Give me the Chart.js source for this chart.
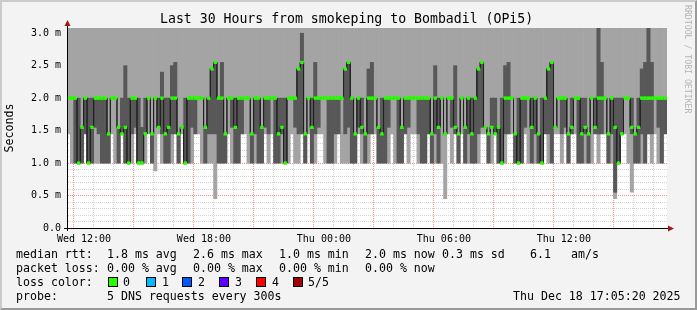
<!DOCTYPE html>
<html>
<head>
<meta charset="utf-8">
<script src="https://cdn.jsdelivr.net/npm/chart.js@4/dist/chart.umd.min.js"></script>
<style>
html,body{margin:0;padding:0;}
body{width:697px;height:310px;background:#f3f3f3;position:relative;overflow:hidden;font-family:'DejaVu Sans Mono',monospace;color:#000;}
#frame{position:absolute;left:0;top:0;width:697px;height:310px;box-sizing:border-box;border-style:solid;border-width:2px;border-color:#cbcbcb #999 #999 #cbcbcb;pointer-events:none;}
canvas{position:absolute;left:0;top:0;}
.t{position:absolute;white-space:pre;font-size:11.6px;line-height:14px;}
#title{position:absolute;left:160px;top:11px;font-size:13.2px;line-height:16px;white-space:pre;}
#wm{position:absolute;left:683px;top:5px;font-size:8.2px;line-height:10px;color:#b4b4b4;writing-mode:vertical-rl;white-space:pre;}
.box{position:absolute;width:10px;height:10px;box-sizing:border-box;border:1px solid #000;top:277px;}
</style>
</head>
<body>
<canvas id="c" width="697" height="310"></canvas>
<div id="title">Last 30 Hours from smokeping to Bombadil (OPi5)</div>
<div id="wm">RRDTOOL / TOBI OETIKER</div>

<div class="t" style="left:16px;top:247px">median rtt:</div>
<div class="t" style="left:107px;top:247px">1.8 ms avg</div>
<div class="t" style="left:193px;top:247px">2.6 ms max</div>
<div class="t" style="left:279px;top:247px">1.0 ms min</div>
<div class="t" style="left:365px;top:247px">2.0 ms now</div>
<div class="t" style="left:442px;top:247px">0.3 ms sd</div>
<div class="t" style="left:530px;top:247px">6.1</div>
<div class="t" style="left:571px;top:247px">am/s</div>

<div class="t" style="left:16px;top:261px">packet loss:</div>
<div class="t" style="left:107px;top:261px">0.00 % avg</div>
<div class="t" style="left:193px;top:261px">0.00 % max</div>
<div class="t" style="left:279px;top:261px">0.00 % min</div>
<div class="t" style="left:365px;top:261px">0.00 % now</div>

<div class="t" style="left:16px;top:275px">loss color:</div>
<div class="box" style="left:108px;background:#26ff00"></div><div class="t" style="left:123px;top:275px">0</div>
<div class="box" style="left:146px;background:#00b8ff"></div><div class="t" style="left:162px;top:275px">1</div>
<div class="box" style="left:182px;background:#0059ff"></div><div class="t" style="left:198px;top:275px">2</div>
<div class="box" style="left:219px;background:#5e00ff"></div><div class="t" style="left:235px;top:275px">3</div>
<div class="box" style="left:256px;background:#ff0000"></div><div class="t" style="left:272px;top:275px">4</div>
<div class="box" style="left:293px;background:#a10000"></div><div class="t" style="left:308px;top:275px">5/5</div>

<div class="t" style="left:16px;top:289px">probe:</div>
<div class="t" style="left:107px;top:289px">5 DNS requests every 300s</div>
<div class="t" style="left:513px;top:289px">Thu Dec 18 17:05:20 2025</div>

<div id="frame"></div>

<script>
// ---- data (ms), one column per 10 minutes, starting Wed 11:09 ----
const START_HOUR = 11.15;      // hours since Wed 00:00
const STEP_HOURS = 1 / 6;      // 10 minutes
const SPAN_HOURS = 30;

// smallest of the 5 pings
const minRtt = [
1.45,1.0,1.0,1.0,1.0,1.45,1.0,1.0,1.0,1.0,
1.0,1.0,1.0,1.45,1.0,1.0,1.45,1.0,1.0,1.0,
1.45,1.0,1.0,1.0,1.45,1.0,0.88,1.45,1.0,1.0,
1.0,1.0,1.45,1.0,1.45,1.0,1.0,1.0,1.45,1.45,
1.0,1.0,1.0,1.0,0.45,1.0,1.0,1.0,1.45,1.0,
1.0,1.0,1.45,1.45,1.0,1.0,1.0,1.0,1.0,1.45,
1.0,1.45,1.0,1.0,1.0,1.0,1.0,1.45,1.0,1.0,
1.45,1.0,1.45,1.0,1.0,1.45,1.45,1.0,1.0,1.0,
1.0,1.45,1.0,1.0,1.0,1.0,1.0,1.45,1.0,1.0,
1.0,1.45,1.45,1.0,1.0,1.0,1.0,1.45,1.0,1.0,
1.0,1.45,1.0,1.45,1.45,1.0,1.0,1.0,1.45,1.0,
1.0,1.0,1.0,0.45,1.45,1.0,1.45,1.0,1.45,1.0,
1.0,1.0,1.0,1.0,1.45,1.45,1.0,1.0,1.45,1.0,
1.0,1.0,1.45,1.45,1.0,1.0,1.0,1.45,1.0,1.0,
1.0,1.0,1.0,1.45,1.0,1.0,1.45,1.45,1.0,1.45,
1.0,1.45,1.45,1.0,1.0,1.0,1.0,1.0,1.45,1.0,
1.45,1.45,1.0,1.0,0.45,1.0,1.45,1.45,1.0,0.55,
1.0,1.0,1.0,1.0,1.45,1.0,1.45,1.0,1.0,1.45];

// 2nd ping (bottom of the dark smoke)
const lowRtt = [
2.0,2.0,1.0,1.0,1.0,1.45,1.0,1.0,1.55,1.45,
1.0,1.0,1.0,2.0,2.0,1.0,1.45,1.0,1.0,1.45,
1.55,1.0,1.0,1.45,2.0,1.0,2.0,1.55,1.45,1.0,
1.0,1.45,1.45,1.0,1.55,1.0,1.0,1.55,1.45,2.0,
2.0,1.0,1.45,1.45,1.45,1.0,1.0,1.0,2.0,1.55,
1.0,1.0,1.45,2.0,2.0,1.0,1.45,1.0,1.0,1.55,
1.45,2.0,1.0,1.0,1.45,1.0,2.0,2.0,1.55,1.45,
1.45,1.0,2.0,1.0,1.45,1.55,2.0,2.0,1.0,1.0,
1.45,1.45,2.0,1.45,1.55,1.0,1.0,1.55,1.45,1.0,
1.45,1.45,2.0,1.0,1.0,1.0,1.55,2.0,2.0,1.0,
1.0,1.45,1.55,2.0,2.0,1.45,1.0,1.0,1.45,1.0,
1.45,1.0,2.0,1.45,2.0,1.55,1.45,1.0,2.0,1.0,
1.45,1.0,1.0,1.45,1.55,1.55,1.0,1.55,1.45,1.0,
1.0,1.45,1.45,2.0,1.0,1.0,1.0,1.55,2.0,1.0,
1.45,1.0,1.0,1.45,1.45,1.0,1.55,2.0,1.45,1.55,
1.0,1.45,2.0,1.0,1.0,1.45,1.0,2.0,1.45,1.45,
1.45,2.0,1.0,1.45,0.55,1.0,1.45,2.0,2.0,1.45,
1.0,1.0,1.45,1.0,1.45,1.45,2.0,1.55,1.0,1.45];

// median of the 5 pings
const medianRtt = [
2.0,2.0,2.0,1.0,1.55,2.0,1.0,1.55,2.0,2.0,
2.0,2.0,1.45,2.0,2.0,1.55,1.45,1.55,1.0,2.0,
2.0,1.0,1.0,1.45,2.0,1.45,2.0,1.55,2.0,1.45,
1.55,2.0,2.0,1.45,1.55,1.0,2.0,2.0,2.0,2.0,
2.0,1.55,2.0,2.45,2.55,2.0,2.0,1.45,2.0,2.0,
1.55,2.0,2.0,2.0,2.0,1.45,2.0,2.0,1.55,2.0,
2.0,2.0,2.0,1.45,1.55,1.0,2.0,2.0,2.0,2.45,
2.55,1.45,2.0,1.55,2.0,2.0,2.0,2.0,2.0,2.0,
2.0,2.0,2.0,2.45,2.55,2.0,1.45,2.0,1.55,1.45,
2.0,2.0,2.0,1.55,1.45,2.0,2.0,2.0,2.0,2.0,
1.55,2.0,2.0,2.0,2.0,2.0,2.0,2.0,2.0,1.45,
2.0,1.55,2.0,1.45,2.0,2.0,1.55,1.45,2.0,1.55,
2.0,1.45,2.0,2.45,2.55,1.55,1.45,1.55,1.45,1.55,
1.0,2.0,2.0,2.0,1.45,1.0,2.0,2.0,2.0,1.55,
2.0,1.45,1.0,2.0,2.45,2.55,1.55,2.0,2.0,2.0,
1.45,1.55,2.0,2.0,1.45,1.55,1.45,2.0,1.55,2.0,
2.0,2.0,1.45,2.0,1.55,1.0,1.45,2.0,2.0,1.55,
1.45,1.55,2.0,2.0,2.0,2.0,2.0,2.0,2.0,2.0];

// 4th ping (top of the dark smoke)
const highRtt = [
2.0,2.0,2.0,2.0,1.55,2.0,2.0,2.0,2.0,2.0,
2.0,2.0,1.45,2.0,2.0,1.55,2.0,2.5,2.0,2.0,
2.0,2.0,1.55,2.0,2.0,1.45,2.0,2.0,2.4,2.0,
2.0,2.5,2.55,1.45,1.55,2.0,2.0,2.0,2.0,2.0,
2.0,1.55,2.0,2.45,2.55,2.0,2.55,1.45,2.0,2.0,
2.0,2.0,2.0,2.0,2.0,1.45,2.0,2.0,1.55,2.0,
2.0,2.0,2.0,2.0,2.0,2.0,2.0,2.0,2.0,2.45,
3.0,1.45,2.0,2.0,2.55,2.0,2.0,2.0,2.0,2.0,
2.0,2.0,2.0,2.45,2.55,2.0,1.45,2.0,2.0,1.45,
2.45,2.55,2.0,1.55,2.0,2.0,2.0,2.0,2.0,2.0,
1.55,2.0,2.0,2.0,2.0,2.0,2.0,2.0,2.0,1.45,
2.5,2.0,2.0,1.45,2.0,2.0,2.5,1.45,2.0,1.55,
2.0,2.0,2.0,2.45,2.55,1.55,1.45,2.0,2.0,1.55,
2.0,2.5,2.55,2.0,1.45,2.0,2.0,2.0,2.0,2.0,
2.0,1.45,2.0,2.0,2.45,2.55,1.55,2.0,2.0,2.0,
1.45,2.0,2.0,2.0,2.0,2.0,1.45,2.0,2.0,3.5,
2.55,2.0,1.45,2.0,2.0,2.0,2.0,2.0,2.0,2.0,
1.45,2.0,2.45,2.55,3.5,2.55,2.0,2.0,2.0,2.0];

// largest of the 5 pings: above the top of the chart in every column
const maxRtt = [
3.5,3.5,3.5,3.5,3.5,3.5,3.5,3.5,3.5,3.5,
3.5,3.5,3.5,3.5,3.5,3.5,3.5,3.5,3.5,3.5,
3.5,3.5,3.5,3.5,3.5,3.5,3.5,3.5,3.5,3.5,
3.5,3.5,3.5,3.5,3.5,3.5,3.5,3.5,3.5,3.5,
3.5,3.5,3.5,3.5,3.5,3.5,3.5,3.5,3.5,3.5,
3.5,3.5,3.5,3.5,3.5,3.5,3.5,3.5,3.5,3.5,
3.5,3.5,3.5,3.5,3.5,3.5,3.5,3.5,3.5,3.5,
3.5,3.5,3.5,3.5,3.5,3.5,3.5,3.5,3.5,3.5,
3.5,3.5,3.5,3.5,3.5,3.5,3.5,3.5,3.5,3.5,
3.5,3.5,3.5,3.5,3.5,3.5,3.5,3.5,3.5,3.5,
3.5,3.5,3.5,3.5,3.5,3.5,3.5,3.5,3.5,3.5,
3.5,3.5,3.5,3.5,3.5,3.5,3.5,3.5,3.5,3.5,
3.5,3.5,3.5,3.5,3.5,3.5,3.5,3.5,3.5,3.5,
3.5,3.5,3.5,3.5,3.5,3.5,3.5,3.5,3.5,3.5,
3.5,3.5,3.5,3.5,3.5,3.5,3.5,3.5,3.5,3.5,
3.5,3.5,3.5,3.5,3.5,3.5,3.5,3.5,3.5,3.5,
3.5,3.5,3.5,3.5,3.5,3.5,3.5,3.5,3.5,3.5,
3.5,3.5,3.5,3.5,3.5,3.5,3.5,3.5,3.5,3.5];

const xTickHours  = [12, 18, 24, 30, 36];
const xTickLabels = ['Wed 12:00', 'Wed 18:00', 'Thu 00:00', 'Thu 06:00', 'Thu 12:00'];
const yMaxMs = 3.08;

// ---- build ----
const times = medianRtt.map((_, i) => START_HOUR + (i + 0.5) * STEP_HOURS);
const medianPts = times.map((t, i) => ({x: t, y: medianRtt[i]}));
const FONT = "'DejaVu Sans Mono', monospace";
const MAJOR = 'rgba(255,100,100,0.75)';
const MINOR = 'rgba(205,205,205,0.9)';

const framePlugin = {
  id: 'frame',
  beforeDraw(chart) {
    const {ctx, chartArea: a} = chart;
    ctx.save();
    ctx.fillStyle = '#ffffff';
    ctx.fillRect(a.left, a.top, a.right - a.left, a.bottom - a.top);
    ctx.restore();
  },
  afterDraw(chart) {
    const {ctx, chartArea: a} = chart;
    // median line and loss-colour marks above the grid
    ctx.save();
    ctx.beginPath();
    ctx.rect(a.left, a.top - 2, a.right - a.left, a.bottom - a.top + 2);
    ctx.clip();
    chart.getDatasetMeta(1).controller.draw();
    chart.getDatasetMeta(0).controller.draw();
    ctx.restore();
    // axis extensions and arrows
    ctx.save();
    ctx.strokeStyle = '#000';
    ctx.lineWidth = 1;
    ctx.beginPath();
    ctx.moveTo(a.left + 0.5, a.bottom + 3);
    ctx.lineTo(a.left + 0.5, a.top - 5);
    ctx.moveTo(a.left - 3, a.bottom + 0.5);
    ctx.lineTo(a.right + 2, a.bottom + 0.5);
    ctx.stroke();
    ctx.fillStyle = '#a01818';
    ctx.beginPath();
    ctx.moveTo(a.left + 0.5, a.top - 8);
    ctx.lineTo(a.left - 2.5, a.top - 2);
    ctx.lineTo(a.left + 3.5, a.top - 2);
    ctx.closePath();
    ctx.fill();
    ctx.beginPath();
    ctx.moveTo(a.right + 7, a.bottom + 0.5);
    ctx.lineTo(a.right + 1, a.bottom - 2.5);
    ctx.lineTo(a.right + 1, a.bottom + 3.5);
    ctx.closePath();
    ctx.fill();
    ctx.restore();
  }
};

new Chart(document.getElementById('c'), {
  type: 'bar',
  data: {
    datasets: [
      {
        type: 'line', label: 'loss 0', data: medianPts, showLine: false,
        pointStyle: 'line', pointRadius: 1.7, pointHoverRadius: 1.7,
        pointBorderWidth: 3, pointBorderColor: '#26ff00', pointBackgroundColor: '#26ff00',
        order: 0
      },
      {
        type: 'line', label: 'median', data: medianPts, stepped: 'middle',
        borderColor: '#202020', borderWidth: 1, pointRadius: 0, fill: false,
        order: 1
      },
      {
        type: 'bar', label: 'smoke inner',
        data: times.map((t, i) => ({x: t, y: [lowRtt[i], highRtt[i]]})),
        backgroundColor: '#585858', borderWidth: 0, grouped: false,
        barPercentage: 1, categoryPercentage: 1, order: 2
      },
      {
        type: 'bar', label: 'smoke outer',
        data: times.map((t, i) => ({x: t, y: [minRtt[i], maxRtt[i]]})),
        backgroundColor: '#a4a4a4', borderWidth: 0, grouped: false,
        barPercentage: 1, categoryPercentage: 1, order: 3
      }
    ]
  },
  options: {
    responsive: false,
    animation: false,
    devicePixelRatio: 1,
    layout: {padding: {left: 0, top: 28, right: 30, bottom: 62}},
    plugins: {legend: {display: false}, tooltip: {enabled: false}},
    scales: {
      x: {
        type: 'linear', min: START_HOUR, max: START_HOUR + SPAN_HOURS + 0.01, offset: false, z: 1,
        grid: {
          color: c => (c.tick && Math.round(c.tick.value) % 3 === 0) ? MAJOR : MINOR,
          lineWidth: 1, drawTicks: false
        },
        border: {display: true, color: '#000', width: 1, dash: [1, 1]},
        ticks: {
          stepSize: 1, autoSkip: false, maxRotation: 0, minRotation: 0, includeBounds: false,
          padding: 5, color: '#000', font: {family: FONT, size: 10},
          callback: v => {
            const k = xTickHours.indexOf(Math.round(v));
            return k >= 0 ? xTickLabels[k] : '';
          }
        },
        afterFit: s => { s.height = 20; }
      },
      y: {
        type: 'linear', min: 0, max: yMaxMs, z: 1,
        grid: {
          color: c => (c.tick && Math.round(c.tick.value * 10) % 5 === 0) ? MAJOR : MINOR,
          lineWidth: 1, drawTicks: false
        },
        border: {display: true, color: '#000', width: 1, dash: [1, 1]},
        ticks: {
          stepSize: 0.1, autoSkip: false, includeBounds: false,
          padding: 6, color: '#000', font: {family: FONT, size: 10},
          callback: v => {
            const n = Math.round(v * 10);
            if (n % 5 !== 0) return '';
            return n === 0 ? '0.0' : (n / 10).toFixed(1) + ' m';
          }
        },
        title: {display: true, text: 'Seconds', color: '#000', font: {family: FONT, size: 11.6}, padding: {top: 3, bottom: 0}},
        afterFit: s => { s.width = 67; }
      }
    }
  },
  plugins: [framePlugin]
});
</script>
</body>
</html>
